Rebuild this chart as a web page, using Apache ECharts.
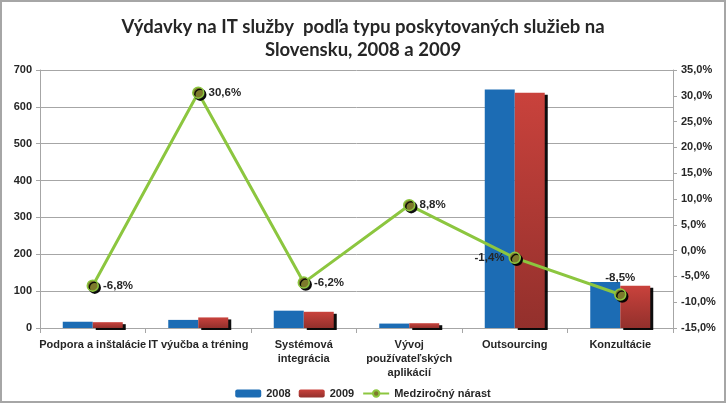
<!DOCTYPE html>
<html>
<head>
<meta charset="utf-8">
<script src="https://cdn.jsdelivr.net/npm/echarts@6/dist/echarts.min.js"></script>
<style>
html, body { margin: 0; padding: 0; background: #fff; }
#chart { width: 722px; height: 399px; border: 2px solid #a6a6a6; }
</style>
</head>
<body>
<div id="chart"></div>
<script>
var categories = ['Podpora a inštalácie', 'IT výučba a tréning', 'Systémová\nintegrácia',
    'Vývoj\npoužívateľských\naplikácií', 'Outsourcing', 'Konzultácie'];
var values2008 = [17, 22, 47, 12, 647, 125];
var values2009 = [15.8, 28.7, 44, 13, 638, 114.4];
var growth = [-6.8, 30.6, -6.2, 8.8, -1.4, -8.5];
var growthLabelPos = ['right', 'right', 'right', 'right', 'left', 'top'];

function pct(v) {
    return v.toFixed(1).replace('.', ',') + '%';
}

var txt = { fontFamily: 'Liberation Sans, Arial, sans-serif', fontWeight: 'bold', fontSize: 11, color: '#262626' };

var chart = echarts.init(document.getElementById('chart'));
chart.setOption({
    animation: false,
    title: {
        text: 'Výdavky na IT služby  podľa typu poskytovaných služieb na\nSlovensku, 2008 a 2009',
        left: 'center',
        top: 9,
        textStyle: { fontFamily: 'Lato, sans-serif', fontWeight: 'bold', fontSize: 18.5, lineHeight: 23, color: '#262626' }
    },
    legend: {
        top: 381,
        left: 'center',
        itemWidth: 26,
        itemHeight: 8,
        itemGap: 8,
        textStyle: txt,
        data: ['2008', '2009', 'Medziročný nárast']
    },
    grid: { left: 38, right: 51, top: 68, bottom: 73 },
    xAxis: {
        type: 'category',
        data: categories,
        axisLine: { lineStyle: { color: '#a6a6a6' } },
        axisTick: { show: true, lineStyle: { color: '#a6a6a6' } },
        axisLabel: Object.assign({ interval: 0, margin: 10, lineHeight: 14, align: 'center' }, txt)
    },
    yAxis: [{
        type: 'value',
        min: 0, max: 700, interval: 100,
        axisLine: { show: true, lineStyle: { color: '#a6a6a6' } },
        axisTick: { show: true, length: 4, lineStyle: { color: '#a6a6a6' } },
        splitLine: { lineStyle: { color: '#a6a6a6' } },
        axisLabel: Object.assign({ margin: 8 }, txt)
    }, {
        type: 'value',
        min: -15, max: 35, interval: 5,
        axisLine: { show: true, lineStyle: { color: '#a6a6a6' } },
        axisTick: { show: true, length: 4, lineStyle: { color: '#a6a6a6' } },
        splitLine: { show: false },
        axisLabel: Object.assign({ margin: 8, formatter: pct }, txt)
    }],
    series: [{
        name: '2008',
        type: 'bar',
        data: values2008,
        barWidth: 30,
        barGap: '0%',
        itemStyle: { color: '#1c6cb4' }
    }, {
        name: '2009',
        type: 'bar',
        data: values2009,
        barWidth: 30,
        itemStyle: {
            color: new echarts.graphic.LinearGradient(0, 0, 0, 1, [
                { offset: 0, color: '#c9423c' },
                { offset: 1, color: '#93302c' }
            ]),
            shadowColor: 'rgba(0,0,0,0.95)',
            shadowOffsetX: 3,
            shadowOffsetY: 2,
            shadowBlur: 0
        }
    }, {
        name: 'Medziročný nárast',
        type: 'line',
        yAxisIndex: 1,
        data: growth.map(function (v, i) {
            return { value: v, label: { position: growthLabelPos[i] } };
        }),
        symbol: 'circle',
        symbolSize: 11,
        lineStyle: { color: '#8cc63f', width: 3 },
        itemStyle: {
            color: '#7d7a2c',
            borderColor: '#8cc63f',
            borderWidth: 1.5,
            shadowColor: 'rgba(0,0,0,0.9)',
            shadowOffsetX: 2,
            shadowOffsetY: 2,
            shadowBlur: 0
        },
        label: Object.assign({ show: true, distance: 4, formatter: function (p) { return pct(p.value); } }, txt, { fontSize: 11.5 }),
        z: 5
    }]
});
</script>
</body>
</html>
